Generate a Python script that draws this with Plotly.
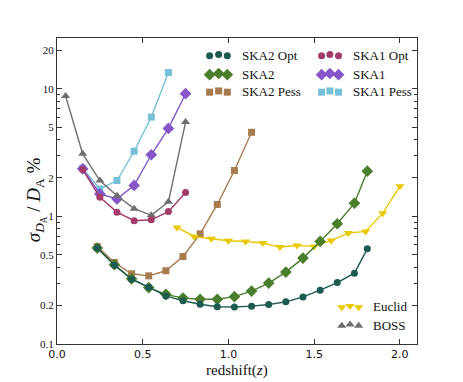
import numpy as np
import plotly.graph_objects as go

#%% data
z_ska1 = [0.15, 0.25, 0.35, 0.45, 0.55, 0.65, 0.75]
ska1_opt = [2.33, 1.41, 1.08, 0.925, 0.94, 1.09, 1.54]
ska1 = [2.36, 1.50, 1.37, 1.75, 3.04, 4.89, 9.15]
z_ska1_pess = [0.15, 0.25, 0.35, 0.45, 0.55, 0.65]
ska1_pess = [2.38, 1.64, 1.91, 3.24, 6.0, 13.4]

z_boss = [0.05, 0.15, 0.25, 0.35, 0.45, 0.55, 0.65, 0.75]
boss = [8.77, 3.09, 1.91, 1.45, 1.15, 1.02, 1.30, 5.48]

z_ska2 = [0.235, 0.335, 0.435, 0.535, 0.635, 0.735, 0.835, 0.935, 1.035,
          1.135, 1.235, 1.335, 1.435, 1.535, 1.635, 1.735, 1.81]
ska2_opt = [0.565, 0.415, 0.322, 0.279, 0.238, 0.218, 0.205, 0.196, 0.195,
            0.198, 0.204, 0.214, 0.234, 0.264, 0.303, 0.359, 0.557]
ska2 = [0.565, 0.418, 0.324, 0.277, 0.245, 0.229, 0.224, 0.224, 0.235,
        0.26, 0.30, 0.366, 0.471, 0.636, 0.876, 1.27, 2.26]
z_ska2_pess = [0.235, 0.335, 0.435, 0.535, 0.635, 0.735, 0.835, 0.935, 1.035, 1.135]
ska2_pess = [0.58, 0.435, 0.355, 0.342, 0.375, 0.485, 0.73, 1.24, 2.29, 4.56]

z_euclid = [0.7, 0.8, 0.9, 1.0, 1.1, 1.2, 1.3, 1.4, 1.5, 1.6, 1.7, 1.8, 1.9, 2.0]
euclid = [0.82, 0.696, 0.668, 0.644, 0.636, 0.618, 0.575, 0.592, 0.582,
          0.648, 0.74, 0.763, 1.06, 1.72]

y_ticks = [0.1, 0.2, 0.5, 1, 2, 5, 10, 20]
y_ticktext = ['0.1', '0.2', '0.5', '1', '2', '5', '10', '20']

#%% styles
series = [
    ('SKA2 Opt', z_ska2, ska2_opt, '#1d5a50', 'circle', 7),
    ('SKA2', z_ska2, ska2, '#4a7e2c', 'diamond', 9),
    ('SKA2 Pess', z_ska2_pess, ska2_pess, '#a67b4e', 'square', 7),
    ('SKA1 Opt', z_ska1, ska1_opt, '#a33b6a', 'circle', 7),
    ('SKA1', z_ska1, ska1, '#8456c8', 'diamond', 9),
    ('SKA1 Pess', z_ska1_pess, ska1_pess, '#76c0d7', 'square', 7),
    ('Euclid', z_euclid, euclid, '#e8c900', 'triangle-down', 8),
    ('BOSS', z_boss, boss, '#6e6e6e', 'triangle-up', 8),
]

fig = go.Figure()
draw_order = ['SKA2 Pess', 'SKA1 Pess', 'SKA1', 'BOSS', 'SKA1 Opt', 'Euclid', 'SKA2', 'SKA2 Opt']
lookup = {s[0]: s for s in series}
for name in draw_order:
    nm, x, y, col, sym, sz = lookup[name]
    fig.add_trace(go.Scatter(x=x, y=y, mode='lines+markers', name=nm,
                             line=dict(color=col, width=1.4),
                             marker=dict(color=col, symbol=sym, size=sz, line=dict(width=0)),
                             showlegend=False))

# hand made legend (three markers per entry like matplotlib) on an overlay axis
legend_pos = {
    'SKA2 Opt': ([0.424, 0.449, 0.473], 0.944, 0.508),
    'SKA2': ([0.424, 0.449, 0.473], 0.882, 0.508),
    'SKA2 Pess': ([0.424, 0.449, 0.473], 0.825, 0.508),
    'SKA1 Opt': ([0.735, 0.758, 0.782], 0.944, 0.816),
    'SKA1': ([0.735, 0.758, 0.782], 0.882, 0.816),
    'SKA1 Pess': ([0.735, 0.758, 0.782], 0.825, 0.816),
    'Euclid': ([0.791, 0.814, 0.838], 0.122, 0.872),
    'BOSS': ([0.791, 0.814, 0.838], 0.062, 0.872),
}
for nm, (xs, yy, xt) in legend_pos.items():
    col, sym, sz = lookup[nm][3], lookup[nm][4], lookup[nm][5]
    fig.add_trace(go.Scatter(x=xs, y=[yy - 0.002, yy + 0.002, yy - 0.002], mode='markers',
                             marker=dict(color=col, symbol=sym, size=sz, line=dict(width=0)),
                             xaxis='x2', yaxis='y2', showlegend=False, hoverinfo='skip'))
    fig.add_annotation(x=xt, y=yy, xref='x2', yref='y2', text=nm, showarrow=False,
                       xanchor='left', yanchor='middle',
                       font=dict(family='Liberation Serif', size=13, color='#111'))

minor_vals = [v * 10.0 ** e for e in (-1, 0, 1) for v in range(1, 10) if v * 10.0 ** e <= 25]

# the page body has an 8px margin, so the figure is drawn 8px smaller
fig.update_layout(
    width=455, height=374,
    margin=dict(l=49, r=46, t=30, b=38),
    paper_bgcolor='white', plot_bgcolor='white',
    xaxis=dict(range=[0, 2.1], dtick=0.5, tick0=0, tickformat='.1f',
               ticks='inside', ticklen=5, tickcolor='#333', mirror='allticks',
               showline=True, linecolor='#333', linewidth=1.3, showgrid=False, zeroline=False,
               tickfont=dict(family='DejaVu Sans', size=11, color='#111')),
    yaxis=dict(type='log', range=[-1, np.log10(25)], tickvals=y_ticks, ticktext=y_ticktext,
               ticks='inside', ticklen=5, tickcolor='#333', mirror='allticks',
               minor=dict(tickvals=minor_vals, ticks='inside', ticklen=3, tickcolor='#333'),
               showline=True, linecolor='#333', linewidth=1.3, showgrid=False, zeroline=False,
               tickfont=dict(family='Liberation Serif', size=11, color='#111')),
    xaxis2=dict(range=[0, 1], overlaying='x', visible=False),
    yaxis2=dict(range=[0, 1], overlaying='y', visible=False),
    showlegend=False,
)

fig.add_annotation(x=0.5, y=-0.088, xref='paper', yref='paper', showarrow=False,
                   text='redshift(<i>z</i>)', yanchor='middle',
                   font=dict(family='Liberation Serif', size=15, color='#111'))
fig.add_annotation(x=-0.1, y=0.47, xref='paper', yref='paper', showarrow=False, textangle=-90,
                   text='<i>σ</i><sub><i>D</i><sub>A</sub></sub> / <i>D</i><sub>A</sub> %',
                   font=dict(family='Liberation Serif', size=19, color='#111'))

fig.write_html("out.html")
